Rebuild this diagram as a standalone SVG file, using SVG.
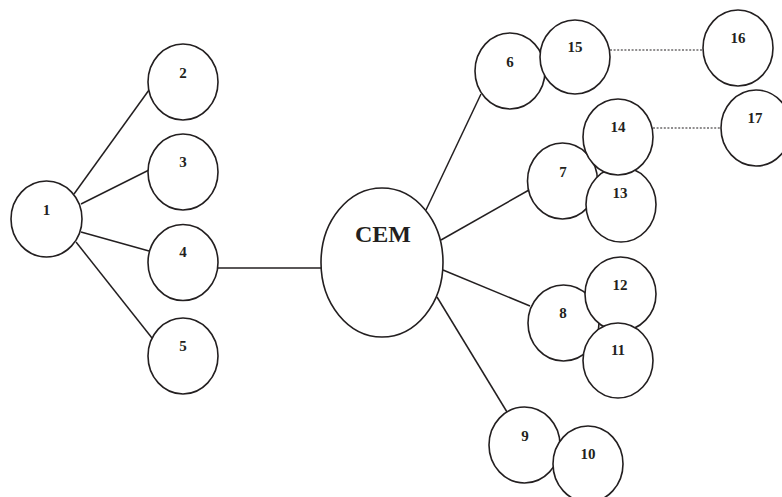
<svg xmlns="http://www.w3.org/2000/svg" width="782" height="497" viewBox="0 0 782 497">
  <style>
    .node ellipse { fill: #ffffff; stroke: #231f20; stroke-width: 1.6; }
    .node text { font-family: "Liberation Serif", "Times New Roman", serif; font-weight: bold; font-size: 15px; fill: #231f20; text-anchor: middle; }
    #cem text { font-size: 24px; }
    .edge { stroke: #231f20; stroke-width: 1.5; fill: none; }
    .dotted { stroke: #231f20; stroke-width: 1.2; stroke-dasharray: 2 1.6; fill: none; }
  </style>
  <rect width="782" height="497" fill="#ffffff"/>

  <!-- connectors -->
  <g id="connectors">
    <line class="edge" x1="74" y1="194" x2="149" y2="90"/>
    <line class="edge" x1="81" y1="204" x2="149" y2="170"/>
    <line class="edge" x1="81" y1="232" x2="149" y2="251"/>
    <line class="edge" x1="76" y1="242" x2="152" y2="338"/>
    <line class="edge" x1="218" y1="268" x2="321" y2="268"/>
    <line class="edge" x1="426" y1="210" x2="481" y2="94"/>
    <line class="edge" x1="441" y1="240" x2="529" y2="190"/>
    <line class="edge" x1="443" y1="270" x2="530" y2="306"/>
    <line class="edge" x1="437" y1="297" x2="507" y2="412"/>
    <line class="dotted" x1="610" y1="50" x2="703" y2="50"/>
    <line class="dotted" x1="653" y1="128" x2="721" y2="128"/>
  </g>

  <!-- left cluster -->
  <g id="n1" class="node"><ellipse cx="46.5" cy="219" rx="35.5" ry="38"/><text x="46.5" y="215">1</text></g>
  <g id="n2" class="node"><ellipse cx="183" cy="82" rx="35" ry="38"/><text x="183" y="78">2</text></g>
  <g id="n3" class="node"><ellipse cx="183" cy="172" rx="35" ry="38"/><text x="183" y="167">3</text></g>
  <g id="n4" class="node"><ellipse cx="183" cy="262.5" rx="35" ry="38"/><text x="183" y="257">4</text></g>
  <g id="n5" class="node"><ellipse cx="183" cy="356" rx="35" ry="38"/><text x="183" y="351">5</text></g>

  <!-- centre -->
  <g id="cem" class="node"><ellipse cx="382" cy="262.5" rx="61" ry="74.5"/><text x="383" y="242">CEM</text></g>

  <!-- right cluster -->
  <g id="n6" class="node"><ellipse cx="510" cy="71" rx="35" ry="38"/><text x="510" y="67">6</text></g>
  <g id="n15" class="node"><ellipse cx="575" cy="57" rx="35" ry="37"/><text x="575" y="52">15</text></g>
  <g id="n16" class="node"><ellipse cx="738" cy="48" rx="35" ry="38"/><text x="738" y="43">16</text></g>
  <g id="n7" class="node"><ellipse cx="562.5" cy="181" rx="35" ry="38"/><text x="563" y="177">7</text></g>
  <g id="n13" class="node"><ellipse cx="621" cy="204.5" rx="35" ry="37.5"/><text x="620" y="198">13</text></g>
  <g id="n14" class="node"><ellipse cx="618" cy="137" rx="35" ry="38"/><text x="618" y="132">14</text></g>
  <g id="n17" class="node"><ellipse cx="756" cy="128" rx="35" ry="38"/><text x="755" y="123">17</text></g>
  <g id="n8" class="node"><ellipse cx="563.5" cy="323" rx="35.5" ry="38"/><text x="563" y="318">8</text></g>
  <g id="n12" class="node"><ellipse cx="620.5" cy="294" rx="35.5" ry="37"/><text x="620" y="290">12</text></g>
  <g id="n11" class="node"><ellipse cx="618" cy="360.5" rx="35" ry="37.5"/><text x="618" y="355">11</text></g>
  <g id="n9" class="node"><ellipse cx="524.5" cy="445" rx="35.5" ry="38"/><text x="525" y="441">9</text></g>
  <g id="n10" class="node"><ellipse cx="588" cy="464" rx="35" ry="38"/><text x="588" y="459">10</text></g>
</svg>
